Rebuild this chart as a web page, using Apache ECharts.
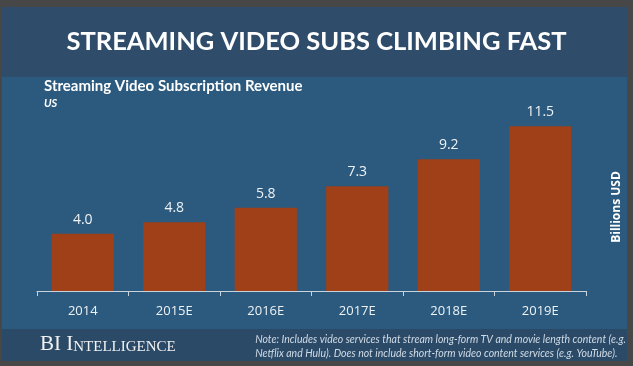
<!DOCTYPE html>
<html><head><meta charset="utf-8">
<script src="https://cdn.jsdelivr.net/npm/echarts@6/dist/echarts.min.js"></script>
<style>html,body{margin:0;padding:0;background:#474747;}#c{width:633px;height:366px;}</style>
</head><body><div id="c"></div>
<script>
var categories = ['2014', '2015E', '2016E', '2017E', '2018E', '2019E'];
var revenue = [4.0, 4.8, 5.8, 7.3, 9.2, 11.5];
var titleText = 'STREAMING VIDEO SUBS CLIMBING FAST';
var subtitleText = 'Streaming Video Subscription Revenue';
var regionText = 'US';
var unitText = 'Billions USD';
var noteLines = ['Note: Includes video services that stream long-form TV and movie length content (e.g.',
                 'Netflix and Hulu). Does not include short-form video content services (e.g. YouTube).'];

var chart = echarts.init(document.getElementById('c'), null, {renderer: 'canvas'});
chart.setOption({
  backgroundColor: '#474747',
  animation: false,
  graphic: [
    {type: 'rect', z: -10, shape: {x: 2, y: 7, width: 625, height: 70}, style: {fill: '#2f4d6b'}},
    {type: 'rect', z: -10, shape: {x: 2, y: 77, width: 625, height: 252}, style: {fill: '#2b5a7e'}},
    {type: 'rect', z: -10, shape: {x: 2, y: 329, width: 625, height: 32}, style: {fill: '#2b4a68'}},
    {type: 'text', left: 'center', top: 29, style: {text: titleText, fill: '#ffffff', font: 'bold 25.5px Lato'}},
    {type: 'text', left: 44, top: 79, style: {text: subtitleText, fill: '#ffffff', font: 'bold 15px Lato'}},
    {type: 'text', left: 44, top: 98, style: {text: regionText, fill: '#ffffff', font: 'italic bold 11px Lato'}},
    {type: 'text', x: 617, y: 207, rotation: Math.PI / 2,
     style: {text: unitText, fill: '#ffffff', font: 'bold 12px "Open Sans"', align: 'center', verticalAlign: 'middle'}},
    {type: 'text', left: 40, top: 334, style: {
      fill: '#f2f2f2',
      rich: {
        a: {fontFamily: '"Liberation Serif"', fontSize: 21, fill: '#f2f2f2', verticalAlign: 'bottom'},
        b: {fontFamily: '"Liberation Serif"', fontSize: 15, fill: '#f2f2f2', verticalAlign: 'bottom'}
      },
      text: '{a|BI I}{b|NTELLIGENCE}'
    }},
    {type: 'text', right: 7, top: 333, style: {text: noteLines.join('\n'), fill: '#d0dbe5', font: 'italic 10.5px Lato', align: 'right', lineHeight: 14}}
  ],
  grid: {left: 37, right: 47, top: 119, bottom: 75, containLabel: false},
  xAxis: {
    type: 'category', data: categories,
    axisLine: {lineStyle: {color: '#c9d3dc', width: 1}},
    axisTick: {show: true, length: 5, inside: false, lineStyle: {color: '#c9d3dc'}},
    axisLabel: {color: '#eef2f5', fontSize: 13, fontFamily: '"Open Sans"', margin: 14}
  },
  yAxis: {type: 'value', min: 0, max: 12, show: false, splitLine: {show: false}},
  series: [{
    type: 'bar', data: revenue, barCategoryGap: '32%',
    itemStyle: {color: '#9f4019'},
    label: {show: true, position: 'top', distance: 7, color: '#eef2f5', fontSize: 14, fontFamily: '"Open Sans"',
      formatter: function (p) { return p.value.toFixed(1); }}
  }]
});
</script></body></html>
